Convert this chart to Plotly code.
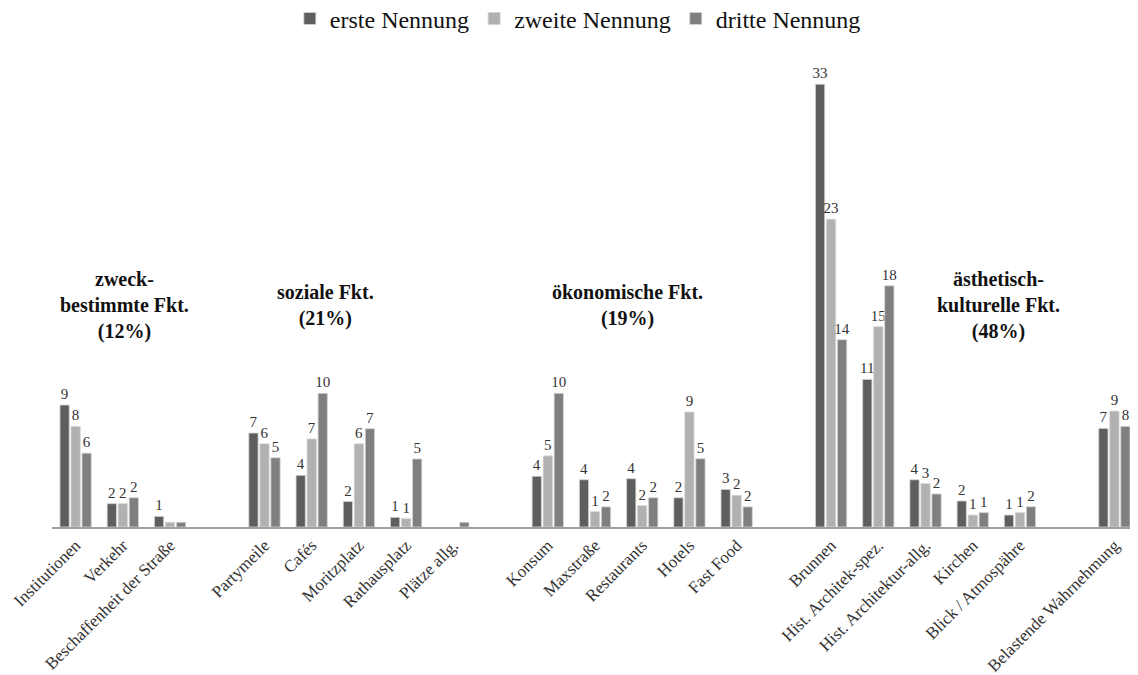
import plotly.graph_objects as go

# --- data -------------------------------------------------------------
groups = [
    ["Institutionen", "Verkehr", "Beschaffenheit der Straße"],
    ["Partymeile", "Cafés", "Moritzplatz", "Rathausplatz", "Plätze allg."],
    ["Konsum", "Maxstraße", "Restaurants", "Hotels", "Fast Food"],
    ["Brunnen", "Hist. Architek-spez.", "Hist. Architektur-allg.", "Kirchen", "Blick / Atmospähre"],
    ["Belastende Wahrnehmung"],
]
group_titles = [
    "zweck-<br>bestimmte Fkt.<br>(12%)",
    "soziale Fkt.<br>(21%)",
    "ökonomische Fkt.<br>(19%)",
    "ästhetisch-<br>kulturelle Fkt.<br>(48%)",
]
# horizontal offset of each title from its group's centre (in category slots)
title_shift = [0.03, -0.71, -0.31, 1.55]
series_names = ["erste Nennung", "zweite Nennung", "dritte Nennung"]

erste = [9.09, 1.74, 0.79,
         7.0, 3.85, 1.9, 0.72, 0.0,
         3.78, 3.52, 3.6, 2.18, 2.8,
         33.0, 11.0, 3.52, 1.94, 0.89,
         7.35]
zweite = [7.5, 1.74, 0.35,
          6.2, 6.56, 6.2, 0.62, 0.0,
          5.3, 1.14, 1.59, 8.57, 2.36,
          22.94, 14.93, 3.23, 0.89, 1.07,
          8.64]
dritte = [5.5, 2.18, 0.35,
          5.16, 9.96, 7.33, 5.07, 0.35,
          9.96, 1.5, 2.18, 5.09, 1.5,
          13.96, 17.98, 2.46, 1.07, 1.51,
          7.5]

colors = ["#5e5e5e", "#b1b1b1", "#7f7f7f"]
serif = "Liberation Serif"

# --- positions: one empty slot between groups ---------------------------
categories, positions, group_centers = [], [], []
pos = 0
for gi, g in enumerate(groups):
    start = pos
    for c in g:
        categories.append(c)
        positions.append(pos)
        pos += 1
    group_centers.append((start + pos - 1) / 2)
    pos += 1  # gap slot
n_slots = pos - 1


def label(v):
    r = int(v + 0.5)
    return str(r) if r >= 1 else ""


fig = go.Figure()
for name, vals, col in zip(series_names, [erste, zweite, dritte], colors):
    fig.add_trace(go.Bar(
        x=positions, y=[v if v > 0 else None for v in vals], name=name,
        marker=dict(color=col, line=dict(width=0.8, color="#d4d4d4")),
        text=[label(v) for v in vals],
        textposition="outside",
        constraintext="none",
        textfont=dict(family=serif, size=15, color="#333333"),
        cliponaxis=False,
    ))

for center, shift, title in zip(group_centers, title_shift, group_titles):
    fig.add_annotation(
        x=center + shift, y=16.5, xref="x", yref="y",
        text="<b>" + title + "</b>", showarrow=False,
        font=dict(family=serif, size=20, color="#111111"),
        yanchor="middle", align="center",
    )

# the page body adds an 8px offset, so the figure is 8px smaller on each axis
fig.update_layout(
    width=1130, height=667,
    margin=dict(l=44, r=0, t=36, b=148, autoexpand=False),
    paper_bgcolor="white", plot_bgcolor="white",
    barmode="group", bargap=0.3, bargroupgap=0.16,
    legend=dict(orientation="h", x=0.219, xanchor="left", y=1.052, yanchor="middle",
                font=dict(family=serif, size=24, color="#111111"),
                itemwidth=30, traceorder="normal"),
    xaxis=dict(
        range=[-0.5, n_slots - 0.5], automargin=False,
        tickmode="array", tickvals=positions, ticktext=categories,
        tickangle=-45, ticks="", showgrid=False, zeroline=False,
        showline=True, linecolor="#a0a0a0", linewidth=1.5,
        tickfont=dict(family=serif, size=17, color="#333333"),
    ),
    yaxis=dict(range=[0, 36], visible=False, showgrid=False, zeroline=False,
               automargin=False),
)

fig.write_html("out.html")
